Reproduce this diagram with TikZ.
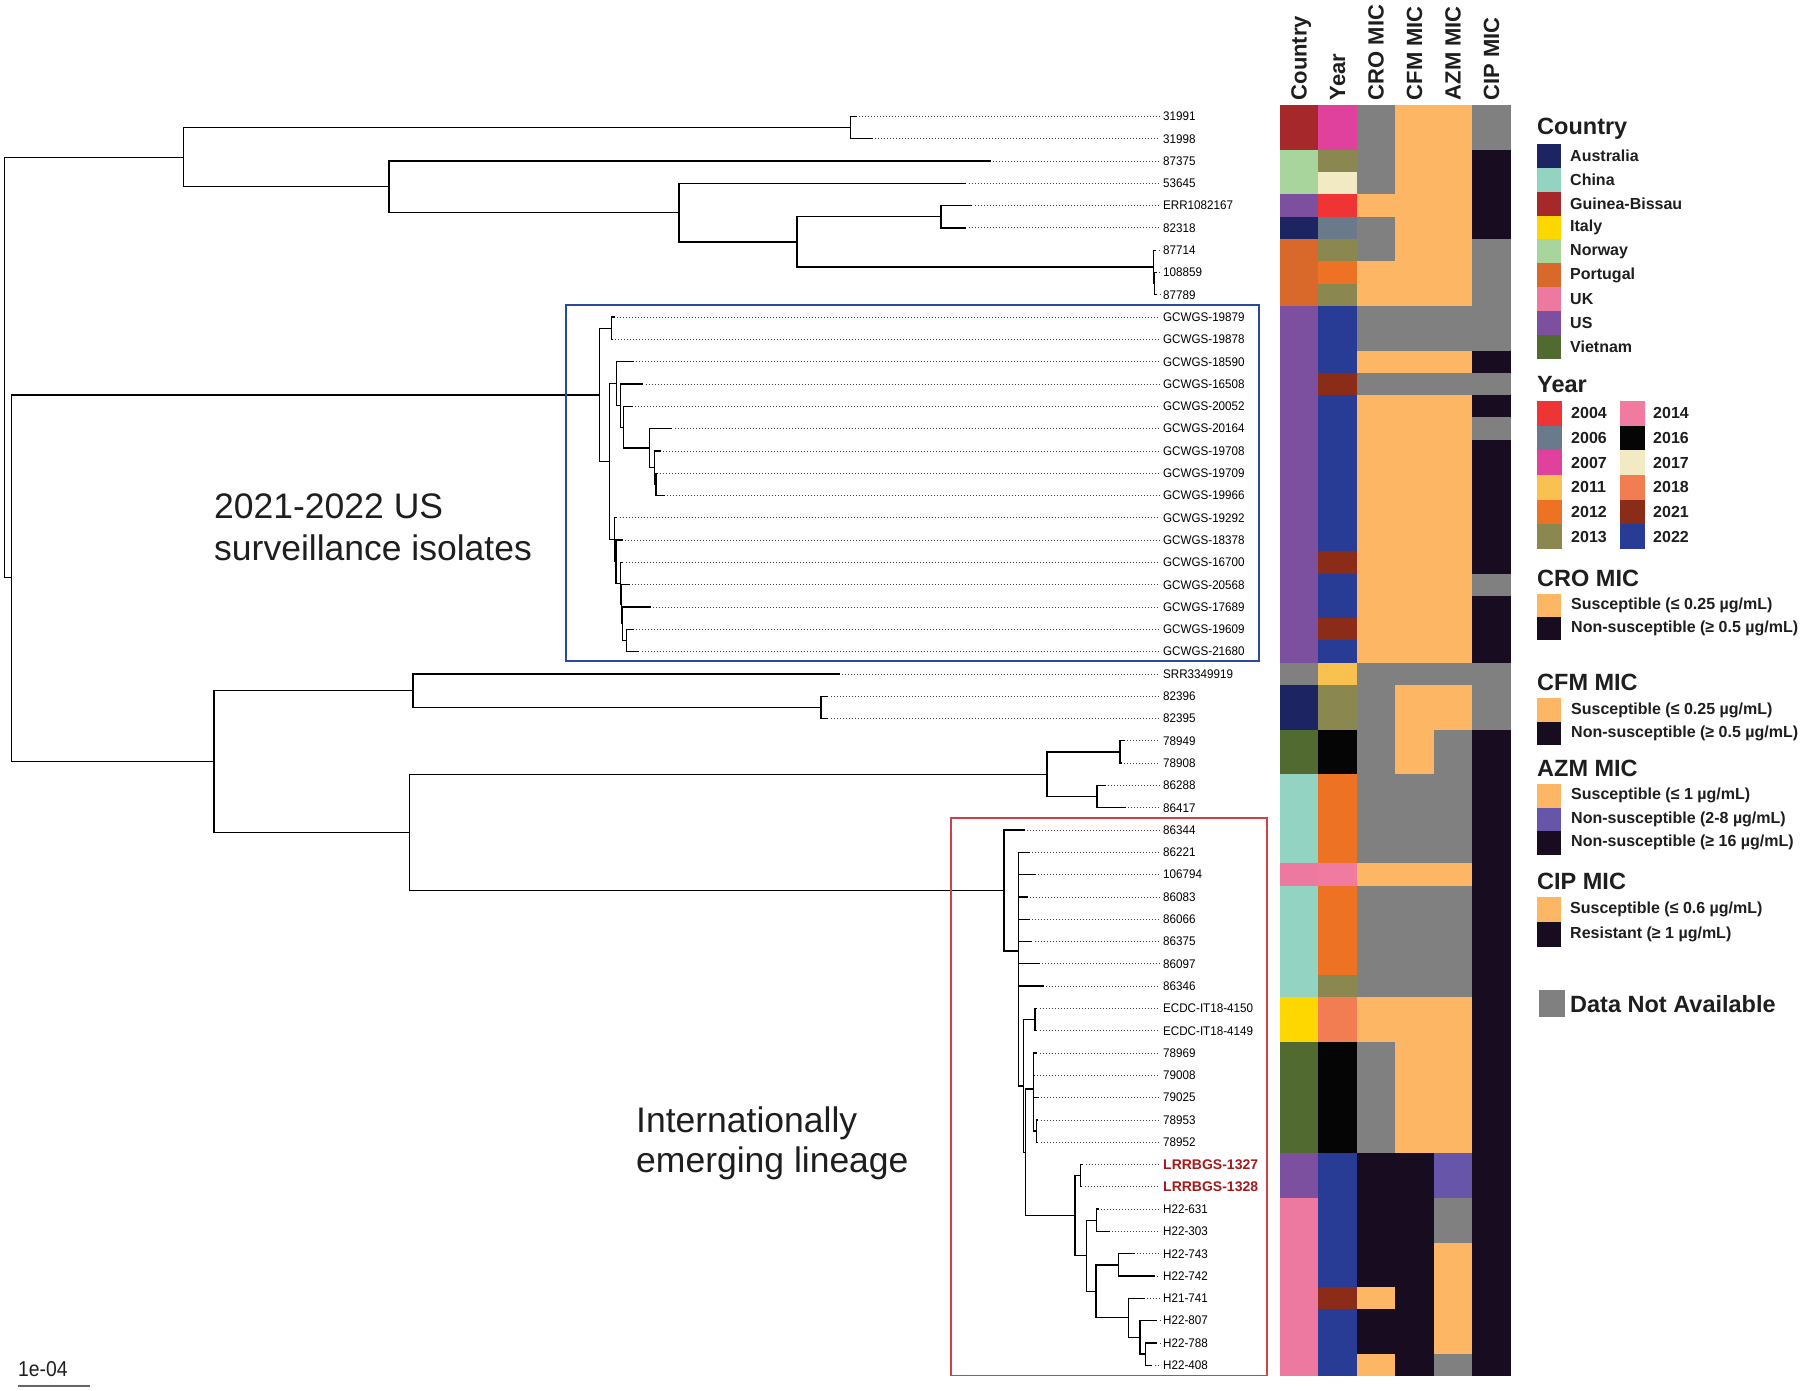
\documentclass[tikz,border=0pt]{standalone}
\usepackage{fontspec}
\setmainfont{Liberation Sans}
\usetikzlibrary{calc}
% country
\definecolor{ctAus}{HTML}{1D2462}
\definecolor{ctChn}{HTML}{93D3C1}
\definecolor{ctGbs}{HTML}{A6282A}
\definecolor{ctIta}{HTML}{FFD700}
\definecolor{ctNor}{HTML}{A7D59C}
\definecolor{ctPor}{HTML}{D8692A}
\definecolor{ctUk}{HTML}{EE79A0}
\definecolor{ctUs}{HTML}{7D4F9F}
\definecolor{ctVnm}{HTML}{506A2F}
% year
\definecolor{yr04}{HTML}{EE3434}
\definecolor{yr06}{HTML}{6B7A8B}
\definecolor{yr07}{HTML}{E0419C}
\definecolor{yr11}{HTML}{F8C150}
\definecolor{yr12}{HTML}{EE7224}
\definecolor{yr13}{HTML}{8A8850}
\definecolor{yr14}{HTML}{F07AA0}
\definecolor{yr16}{HTML}{050505}
\definecolor{yr17}{HTML}{F1EAC3}
\definecolor{yr18}{HTML}{F27D52}
\definecolor{yr21}{HTML}{8A2C18}
\definecolor{yr22}{HTML}{283C96}
% MIC
\definecolor{micS}{HTML}{FDB663}
\definecolor{micN}{HTML}{180D20}
\definecolor{micP}{HTML}{6655A8}
\definecolor{micNA}{HTML}{808080}
\definecolor{labred}{HTML}{A31A1A}
\definecolor{legtext}{HTML}{1E1E1E}
\definecolor{boxblue}{HTML}{2A4A9E}
\definecolor{boxred}{HTML}{D0424A}

\begin{document}
\begin{tikzpicture}[x=1pt,y=-1pt,
    branch/.style={line width=1.3pt,line cap=rect},
    leader/.style={line width=0.8pt,black!75,dash pattern=on 0.8pt off 2.2pt},
    tiplab/.style={anchor=west,inner sep=0pt,xscale=0.93,font=\fontsize{12.5}{14}\selectfont},
    redlab/.style={anchor=west,inner sep=0pt,text=labred,font=\bfseries\fontsize{14}{16}\selectfont},
    colhead/.style={rotate=90,anchor=base west,inner sep=0pt,text=legtext,font=\bfseries\fontsize{22}{24}\selectfont},
    legtitle/.style={anchor=base west,inner sep=0pt,text=legtext,font=\bfseries\fontsize{23.5}{26}\selectfont},
    leglab/.style={anchor=west,inner sep=0pt,text=legtext,font=\bfseries\fontsize{16}{18}\selectfont},
    annot/.style={anchor=base west,inner sep=0pt,text=legtext,font=\fontsize{35.5}{42}\selectfont}]
  \useasboundingbox (0,0) rectangle (1800,1391);

  % heatmap
  \foreach \cA/\cB/\cC/\cD/\cE/\cF [count=\i] in {
    ctGbs/yr07/micNA/micS/micS/micNA, ctGbs/yr07/micNA/micS/micS/micNA,
    ctNor/yr13/micNA/micS/micS/micN, ctNor/yr17/micNA/micS/micS/micN,
    ctUs/yr04/micS/micS/micS/micN, ctAus/yr06/micNA/micS/micS/micN,
    ctPor/yr13/micNA/micS/micS/micNA, ctPor/yr12/micS/micS/micS/micNA,
    ctPor/yr13/micS/micS/micS/micNA,
    ctUs/yr22/micNA/micNA/micNA/micNA, ctUs/yr22/micNA/micNA/micNA/micNA,
    ctUs/yr22/micS/micS/micS/micN, ctUs/yr21/micNA/micNA/micNA/micNA,
    ctUs/yr22/micS/micS/micS/micN, ctUs/yr22/micS/micS/micS/micNA,
    ctUs/yr22/micS/micS/micS/micN, ctUs/yr22/micS/micS/micS/micN,
    ctUs/yr22/micS/micS/micS/micN, ctUs/yr22/micS/micS/micS/micN,
    ctUs/yr22/micS/micS/micS/micN, ctUs/yr21/micS/micS/micS/micN,
    ctUs/yr22/micS/micS/micS/micNA, ctUs/yr22/micS/micS/micS/micN,
    ctUs/yr21/micS/micS/micS/micN, ctUs/yr22/micS/micS/micS/micN,
    micNA/yr11/micNA/micNA/micNA/micNA,
    ctAus/yr13/micNA/micS/micS/micNA, ctAus/yr13/micNA/micS/micS/micNA,
    ctVnm/yr16/micNA/micS/micNA/micN, ctVnm/yr16/micNA/micS/micNA/micN,
    ctChn/yr12/micNA/micNA/micNA/micN, ctChn/yr12/micNA/micNA/micNA/micN,
    ctChn/yr12/micNA/micNA/micNA/micN, ctChn/yr12/micNA/micNA/micNA/micN,
    ctUk/yr14/micS/micS/micS/micN,
    ctChn/yr12/micNA/micNA/micNA/micN, ctChn/yr12/micNA/micNA/micNA/micN,
    ctChn/yr12/micNA/micNA/micNA/micN, ctChn/yr12/micNA/micNA/micNA/micN,
    ctChn/yr13/micNA/micNA/micNA/micN,
    ctIta/yr18/micS/micS/micS/micN, ctIta/yr18/micS/micS/micS/micN,
    ctVnm/yr16/micNA/micS/micS/micN, ctVnm/yr16/micNA/micS/micS/micN,
    ctVnm/yr16/micNA/micS/micS/micN, ctVnm/yr16/micNA/micS/micS/micN,
    ctVnm/yr16/micNA/micS/micS/micN,
    ctUs/yr22/micN/micN/micP/micN, ctUs/yr22/micN/micN/micP/micN,
    ctUk/yr22/micN/micN/micNA/micN, ctUk/yr22/micN/micN/micNA/micN,
    ctUk/yr22/micN/micN/micS/micN, ctUk/yr22/micN/micN/micS/micN,
    ctUk/yr21/micS/micN/micS/micN, ctUk/yr22/micN/micN/micS/micN,
    ctUk/yr22/micN/micN/micS/micN, ctUk/yr22/micS/micN/micNA/micN}{
    \foreach \c [count=\j] in {\cA,\cB,\cC,\cD,\cE,\cF}
      \fill[\c] ({1279.5+(\j-1)*38.5},{105.25+(\i-1)*22.3}) rectangle +(38.6,22.4);
  }
  \foreach \h [count=\j from 0] in {Country,Year,CRO MIC,CFM MIC,AZM MIC,CIP MIC}
    \node[colhead] (hd\j) at ({1306.65+\j*38.5},100.5) {\h};

  % tips and labels
  \foreach \i/\tx/\nm/\st in {1/856/31991/tiplab, 2/872.3/31998/tiplab,
    3/990/87375/tiplab, 4/965.7/53645/tiplab, 5/971.7/ERR1082167/tiplab,
    6/965.7/82318/tiplab, 7/1155.7/87714/tiplab, 8/1156/108859/tiplab,
    9/1156.7/87789/tiplab, 10/614/GCWGS-19879/tiplab, 11/612/GCWGS-19878/tiplab,
    12/633.3/GCWGS-18590/tiplab, 13/642.7/GCWGS-16508/tiplab,
    14/632/GCWGS-20052/tiplab, 15/671.7/GCWGS-20164/tiplab,
    16/660/GCWGS-19708/tiplab, 17/657/GCWGS-19709/tiplab,
    18/664/GCWGS-19966/tiplab, 19/616.7/GCWGS-19292/tiplab,
    20/622/GCWGS-18378/tiplab, 21/622.5/GCWGS-16700/tiplab,
    22/629/GCWGS-20568/tiplab, 23/650/GCWGS-17689/tiplab,
    24/633/GCWGS-19609/tiplab, 25/638.7/GCWGS-21680/tiplab,
    26/839/SRR3349919/tiplab, 27/827.5/82396/tiplab, 28/827.5/82395/tiplab,
    29/1124/78949/tiplab, 30/1121/78908/tiplab, 31/1105/86288/tiplab,
    32/1125/86417/tiplab, 33/1024.3/86344/tiplab, 34/1029.3/86221/tiplab,
    35/1035/106794/tiplab, 36/1027.3/86083/tiplab, 37/1029.3/86066/tiplab,
    38/1031.7/86375/tiplab, 39/1039.3/86097/tiplab, 40/1043.3/86346/tiplab,
    41/1036.7/ECDC-IT18-4150/tiplab, 42/1036.7/ECDC-IT18-4149/tiplab,
    43/1036.7/78969/tiplab, 44/1034.3/79008/tiplab, 45/1038.3/79025/tiplab,
    46/1037.7/78953/tiplab, 47/1037.7/78952/tiplab,
    48/1082.7/LRRBGS-1327/redlab, 49/1081.7/LRRBGS-1328/redlab,
    50/1098.3/H22-631/tiplab, 51/1109.3/H22-303/tiplab,
    52/1134/H22-743/tiplab, 53/1154.3/H22-742/tiplab,
    54/1144/H21-741/tiplab, 55/1156.7/H22-807/tiplab,
    56/1156.7/H22-788/tiplab, 57/1151.7/H22-408/tiplab}{
    \coordinate (t\i) at (\tx,{116.4+(\i-1)*22.3});
    \node[\st] (lab\i) at (1163,{116.4+(\i-1)*22.3}) {\nm};
    \draw[leader] ([xshift=3pt]t\i) -- ([xshift=-3.5pt]lab\i.west);
  }

  % internal nodes
  \foreach \n/\x/\y in {R/4.3/367.4, A1/183.3/157.2, A1a/850.7/127.6,
    A2/389/186.8, A3/679/212.6, A4/797/241.9, A5/941/216.8,
    A6/1153.3/267, A6b/1154.7/283.7, B/11.7/577.6,
    U/599.3/395, U1/611.3/328.3, U2/609.3/461.7, U3/616.7/383.7,
    U5/620.7/405.6, U5b/623.3/427.2, U6/649.3/448.1, U7/654.7/467.6,
    U8/656/484.4, U4/614.3/539.8, U9/616/561.7, U10/620.7/583.3,
    U11/621.5/604.2, U12/622.3/623.7, U13/626.7/640.5,
    L/214/761.5, L1/413/690.6, L1a/821/707.3, L2/409.6/832.4,
    V/1047/774.2, V1/1120/752, V2/1097/796.5,
    E/1004/890.5, E1/1018.3/951, E2/1023.3/1086, EC/1035/1019.6,
    E3/1025.7/1152.5, VN/1033.3/1089, VNb/1036.7/1131,
    LH/1075/1215.7, LR/1080.7/1175.7, H/1086.7/1255.8,
    H1/1096.7/1220.3, H2/1096/1291.3, H3/1118.3/1264.9,
    H4/1128.3/1317.8, H5/1140/1337.3, H6/1145.7/1354}
    \coordinate (\n) at (\x,\y);

  % branches
  \foreach \p/\c in {R/A1, R/B, A1/A1a, A1/A2, A1a/t1, A1a/t2,
    A2/t3, A2/A3, A3/t4, A3/A4, A4/A5, A4/A6, A5/t5, A5/t6,
    A6/t7, A6/A6b, A6b/t8, A6b/t9, B/U, B/L,
    U/U1, U/U2, U1/t10, U1/t11, U2/U3, U2/U4, U3/t12, U3/U5,
    U5/t13, U5/U5b, U5b/t14, U5b/U6, U6/t15, U6/U7, U7/t16, U7/U8,
    U8/t17, U8/t18, U4/t19, U4/U9, U9/t20, U9/U10, U10/t21, U10/U11,
    U11/t22, U11/U12, U12/t23, U12/U13, U13/t24, U13/t25,
    L/L1, L/L2, L1/t26, L1/L1a, L1a/t27, L1a/t28, L2/V, L2/E,
    V/V1, V/V2, V1/t29, V1/t30, V2/t31, V2/t32,
    E/t33, E/E1, E1/t34, E1/t35, E1/t36, E1/t37, E1/t38, E1/t39, E1/t40,
    E1/E2, E2/EC, E2/E3, EC/t41, EC/t42, E3/VN, E3/LH,
    VN/t43, VN/t44, VN/t45, VN/VNb, VNb/t46, VNb/t47,
    LH/LR, LH/H, LR/t48, LR/t49, H/H1, H/H2, H1/t50, H1/t51,
    H2/H3, H2/H4, H3/t52, H3/t53, H4/t54, H4/H5, H5/t55, H5/H6,
    H6/t56, H6/t57}
    \draw[branch] (\p) |- (\c);

  % clade boxes and notes
  \draw[boxblue,line width=1.8pt] (566,305) rectangle (1259,660.6);
  \draw[boxred,line width=1.4pt] (951,818) rectangle (1267,1375.4);
  \node[annot] (usA) at (214,518.2) {2021-2022 US};
  \node[annot] (usB) at (214,560.3) {surveillance isolates};
  \node[annot] (ilA) at (636,1132) {Internationally};
  \node[annot] (ilB) at (636,1172) {emerging lineage};

  % scale bar
  \coordinate (sbL) at (18,1386);
  \coordinate (sbR) at (90,1386);
  \draw[black!60,line width=1.5pt] (sbL) -- (sbR);
  \node[anchor=base west,inner sep=0pt,xscale=0.9,text=legtext,
    font=\fontsize{21.5}{24}\selectfont] (sbtxt) at (18,1376.8) {1e-04};

  % legend
  \node[legtitle] (ttCty) at (1537,135) {Country};
  \foreach \c/\lab [count=\k from 0] in {ctAus/Australia, ctChn/China,
    ctGbs/Guinea-Bissau, ctIta/Italy, ctNor/Norway, ctPor/Portugal,
    ctUk/UK, ctUs/US, ctVnm/Vietnam}{
    \fill[\c] (1537,{144.3+\k*23.8}) rectangle +(24,23.9);
    \node[leglab] (cty\k) at (1570,{156.2+\k*23.8}) {\lab};
  }
  \node[legtitle] (ttYr) at (1537,392) {Year};
  \foreach \c/\lab [count=\k from 0] in {yr04/2004, yr06/2006, yr07/2007,
    yr11/2011, yr12/2012, yr13/2013}{
    \fill[\c] (1537,{401+\k*24.67}) rectangle +(25.4,24.77);
    \node[leglab] (yrA\k) at (1571,{413.3+\k*24.67}) {\lab};
  }
  \foreach \c/\lab [count=\k from 0] in {yr14/2014, yr16/2016, yr17/2017,
    yr18/2018, yr21/2021, yr22/2022}{
    \fill[\c] (1620,{401+\k*24.67}) rectangle +(24.6,24.77);
    \node[leglab] (yrB\k) at (1653,{413.3+\k*24.67}) {\lab};
  }
  \node[legtitle] (ttCro) at (1537,586.7) {CRO MIC};
  \foreach \c/\lab [count=\k from 0] in {micS/{Susceptible (≤ 0.25 µg/mL)},
    micN/{Non-susceptible (≥ 0.5 µg/mL)}}{
    \fill[\c] (1537,{594.3+\k*23}) rectangle +(23.5,23.1);
    \node[leglab] (cro\k) at (1571,{605.8+\k*23}) {\lab};
  }
  \node[legtitle] (ttCfm) at (1537,690) {CFM MIC};
  \foreach \c/\lab [count=\k from 0] in {micS/{Susceptible (≤ 0.25 µg/mL)},
    micN/{Non-susceptible (≥ 0.5 µg/mL)}}{
    \fill[\c] (1537,{698.3+\k*23.4}) rectangle +(23.5,23.5);
    \node[leglab] (cfm\k) at (1571,{710+\k*23.4}) {\lab};
  }
  \node[legtitle] (ttAzm) at (1537,776.7) {AZM MIC};
  \foreach \c/\lab [count=\k from 0] in {micS/{Susceptible (≤ 1 µg/mL)},
    micP/{Non-susceptible (2-8 µg/mL)}, micN/{Non-susceptible (≥ 16 µg/mL)}}{
    \fill[\c] (1537,{784.1+\k*23.5}) rectangle +(23.5,23.6);
    \node[leglab] (azm\k) at (1571,{795.8+\k*23.5}) {\lab};
  }
  \node[legtitle] (ttCip) at (1537,889.6) {CIP MIC};
  \foreach \c/\lab [count=\k from 0] in {micS/{Susceptible (≤ 0.6 µg/mL)},
    micN/{Resistant (≥ 1 µg/mL)}}{
    \fill[\c] (1537,{896.8+\k*25.2}) rectangle +(24.2,25.3);
    \node[leglab] (cip\k) at (1570,{909.4+\k*25.2}) {\lab};
  }
  \fill[micNA] (1538.8,990.2) rectangle (1564.8,1016.7);
  \node[legtitle] (ttNA) at (1570,1012.3) {Data Not Available};
\end{tikzpicture}
\end{document}
